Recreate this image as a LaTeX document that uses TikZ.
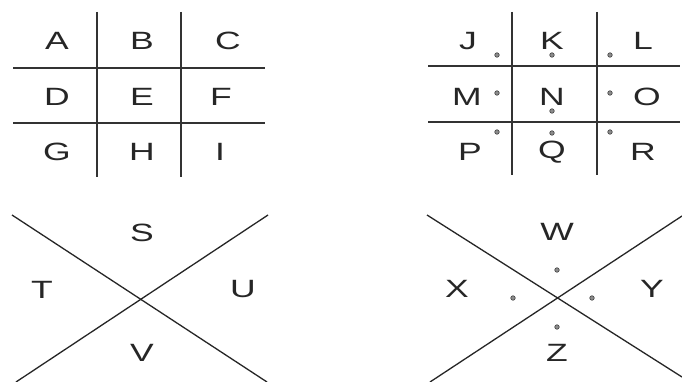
\documentclass[tikz,border=0pt]{standalone}
\usepackage{fontspec}
\setmainfont{Liberation Sans}
\newcommand\wideletter[1]{\scalebox{1.42}[1]{#1}}
\begin{document}
\begin{tikzpicture}[x=1pt,y=-1pt,
  letter/.style={inner sep=0pt, font=\fontsize{25}{25}\selectfont, text=black!85},
  gridline/.style={line width=1.8pt, draw=black!80},
  crossline/.style={line width=1.3pt, draw=black!85},
  pdot/.style={circle, fill=black!45, draw=black!75, line width=0.6pt, inner sep=0pt, minimum size=4.5pt}]
\useasboundingbox[fill=white] (0,0) rectangle (682,382);
% Left grid
\coordinate (lv1t) at (97,12); \coordinate (lv1b) at (97,177);
\coordinate (lv2t) at (181,12); \coordinate (lv2b) at (181,177);
\coordinate (lh1l) at (13,68); \coordinate (lh1r) at (265,68);
\coordinate (lh2l) at (13,123); \coordinate (lh2r) at (265,123);
\draw[gridline] (lv1t) -- (lv1b);
\draw[gridline] (lv2t) -- (lv2b);
\draw[gridline] (lh1l) -- (lh1r);
\draw[gridline] (lh2l) -- (lh2r);
\node[letter] (A) at (57,41) {\wideletter{A}};
\node[letter] (B) at (142,41) {\wideletter{B}};
\node[letter] (C) at (228,41) {\wideletter{C}};
\node[letter] (D) at (57,97) {\wideletter{D}};
\node[letter] (E) at (142,97) {\wideletter{E}};
\node[letter] (F) at (221,97) {\wideletter{F}};
\node[letter] (G) at (57,152) {\wideletter{G}};
\node[letter] (H) at (142,152) {\wideletter{H}};
\node[letter] (I) at (220,152) {\wideletter{I}};
% Right grid
\coordinate (rv1t) at (512,12); \coordinate (rv1b) at (512,175);
\coordinate (rv2t) at (597,12); \coordinate (rv2b) at (597,175);
\coordinate (rh1l) at (428,66); \coordinate (rh1r) at (680,66);
\coordinate (rh2l) at (428,122); \coordinate (rh2r) at (680,122);
\draw[gridline] (rv1t) -- (rv1b);
\draw[gridline] (rv2t) -- (rv2b);
\draw[gridline] (rh1l) -- (rh1r);
\draw[gridline] (rh2l) -- (rh2r);
\node[letter] (J) at (468,41) {\wideletter{J}};
\node[letter] (K) at (552,41) {\wideletter{K}};
\node[letter] (L) at (643,41) {\wideletter{L}};
\node[letter] (M) at (467,97) {\wideletter{M}};
\node[letter] (N) at (552,97) {\wideletter{N}};
\node[letter] (O) at (647,97) {\wideletter{O}};
\node[letter] (P) at (470,152) {\wideletter{P}};
\node[letter] (Q) at (552,152) {\wideletter{Q}};
\node[letter] (R) at (643,152) {\wideletter{R}};
\node[pdot] (dJ) at (497,55) {};
\node[pdot] (dK) at (552,55) {};
\node[pdot] (dL) at (610,55) {};
\node[pdot] (dM) at (497,93) {};
\node[pdot] (dN) at (552,111) {};
\node[pdot] (dO) at (610,93) {};
\node[pdot] (dP) at (497,132) {};
\node[pdot] (dQ) at (552,133) {};
\node[pdot] (dR) at (610,132) {};
% Left X
\coordinate (lx1a) at (12,215); \coordinate (lx1b) at (267,382);
\coordinate (lx2a) at (16,382); \coordinate (lx2b) at (268,215);
\draw[crossline] (lx1a) -- (lx1b);
\draw[crossline] (lx2a) -- (lx2b);
\node[letter] (S) at (142,233) {\wideletter{S}};
\node[letter] (T) at (42,290) {\wideletter{T}};
\node[letter] (U) at (243,289) {\wideletter{U}};
\node[letter] (V) at (142,353) {\wideletter{V}};
% Right X
\coordinate (rx1a) at (427,215); \coordinate (rx1b) at (682,377);
\coordinate (rx2a) at (430,382); \coordinate (rx2b) at (682,216);
\draw[crossline] (rx1a) -- (rx1b);
\draw[crossline] (rx2a) -- (rx2b);
\node[letter] (W) at (557,232) {\wideletter{W}};
\node[letter] (X) at (457,289) {\wideletter{X}};
\node[letter] (Y) at (652,289) {\wideletter{Y}};
\node[letter] (Z) at (557,353) {\wideletter{Z}};
\node[pdot] (dW) at (557,270) {};
\node[pdot] (dX) at (513,298) {};
\node[pdot] (dY) at (592,298) {};
\node[pdot] (dZ) at (557,327) {};
\end{tikzpicture}
\end{document}
